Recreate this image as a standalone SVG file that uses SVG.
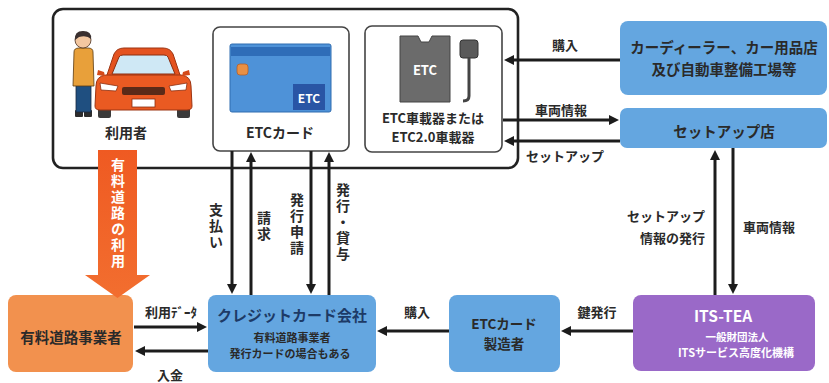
<svg xmlns="http://www.w3.org/2000/svg" width="829" height="383" viewBox="0 0 829 383">
  <style>
    text { font-family: "Noto Sans CJK JP", "Noto Sans", sans-serif; font-weight: bold; fill: #2a2a2a; }
    .c { text-anchor: middle; }
    .r { text-anchor: end; }
    .w { fill: #ffffff; }
    .navy { fill: #1d3a66; }
    .vt { writing-mode: vertical-rl; text-orientation: upright; letter-spacing: 2px; font-size: 14px; }
    .flow { stroke: #1c1c1c; stroke-width: 3; fill: none; marker-end: url(#ah); }
    .blue { fill: #64a6e0; }
    .frame { fill: #ffffff; stroke: #444; stroke-width: 1.6; }
  </style>
  <defs>
    <marker id="ah" viewBox="0 0 10 10" refX="5" refY="5" markerWidth="10" markerHeight="10" markerUnits="userSpaceOnUse" orient="auto">
      <path d="M0,0 L10,5 L0,10 z" fill="#1c1c1c"/>
    </marker>
    <linearGradient id="og" x1="0" y1="0" x2="0" y2="1">
      <stop offset="0" stop-color="#ef5a22"/>
      <stop offset="1" stop-color="#f26e2f"/>
    </linearGradient>
  </defs>

  <rect width="829" height="383" fill="#ffffff"/>

  <!-- user-side frame -->
  <g id="user-frame">
    <rect x="53" y="9" width="465" height="159" rx="10" fill="none" stroke="#222" stroke-width="2.6"/>
  </g>

  <!-- user: driver and car -->
  <g id="user">
    <!-- car -->
    <rect x="98" y="104" width="13" height="14" rx="2" fill="#3a3a3a"/>
    <rect x="177" y="104" width="13" height="14" rx="2" fill="#3a3a3a"/>
    <path d="M106,78 L114,54 Q117,48 124,48 L163,48 Q170,48 173,54 L181,78 Z" fill="#e4521f" stroke="#9c3412" stroke-width="1"/>
    <path d="M112,74 L119,57 Q120,55 123,55 L164,55 Q167,55 168,57 L175,74 Z" fill="#cfe8f5" stroke="#8a2e10" stroke-width="1"/>
    <path d="M96,86 Q96,76 106,75 L181,75 Q191,76 191,86 L192,106 Q192,110 187,110 L100,110 Q95,110 95,106 Z" fill="#ea5a22" stroke="#9c3412" stroke-width="1"/>
    <path d="M100,83 L118,86 L116,91 L101,90 Z" fill="#ffffff" stroke="#8a2e10" stroke-width="0.8"/>
    <path d="M187,83 L169,86 L171,91 L186,90 Z" fill="#ffffff" stroke="#8a2e10" stroke-width="0.8"/>
    <rect x="122" y="87" width="43" height="8" rx="2" fill="#5a2a18"/>
    <rect x="132" y="99" width="23" height="8" fill="#ffffff" stroke="#8a2e10" stroke-width="0.8"/>
    <path d="M104,72 L98,70 L97,75 L105,76 Z" fill="#d44a1a"/>
    <path d="M183,72 L189,70 L190,75 L182,76 Z" fill="#d44a1a"/>
    <!-- driver -->
    <rect x="75" y="110" width="8" height="7" rx="1" fill="#2d2d2d"/>
    <rect x="84" y="110" width="8" height="7" rx="1" fill="#2d2d2d"/>
    <rect x="76" y="84" width="15" height="28" fill="#1f4f80" stroke="#1a2a40" stroke-width="0.8"/>
    <path d="M74,52 Q74,48 79,48 L88,48 Q93,48 93,52 L94,86 L73,86 Z" fill="#e8a03a" stroke="#5a3a10" stroke-width="0.8"/>
    <circle cx="83" cy="40" r="8" fill="#f3c7a0" stroke="#4a3020" stroke-width="0.8"/>
    <path d="M75,40 Q74,31 83,31 Q92,31 91,39 Q87,35 79,37 Z" fill="#3a3030"/>
    <text x="126" y="138" class="c" font-size="14">利用者</text>
  </g>

  <!-- ETC card -->
  <g id="etc-card">
    <rect x="213" y="27" width="136" height="124" rx="7" class="frame"/>
    <rect x="230" y="44" width="101" height="68" rx="2" fill="#4e92d8" stroke="#2f6cb0" stroke-width="1"/>
    <rect x="231" y="47" width="99" height="9" fill="#2f6db8"/>
    <rect x="237" y="64" width="11" height="11" rx="3" fill="#e99045" stroke="#b5602a" stroke-width="0.8"/>
    <rect x="293" y="84" width="32" height="26" fill="#2955a5"/>
    <text x="309" y="103" class="c w" font-size="12" font-family="Liberation Sans, sans-serif">ETC</text>
    <text x="280" y="138" class="c" font-size="14">ETCカード</text>
  </g>

  <!-- on-board unit -->
  <g id="etc-unit">
    <rect x="365" y="26" width="137" height="126" rx="7" class="frame"/>
    <path d="M400,36 L418,36 L421,42 L429,42 L432,36 L450,36 L450,102 L400,102 Z" fill="#6b6b6b" stroke="#444" stroke-width="1"/>
    <text x="425" y="75" class="c w" font-size="13" font-family="Liberation Sans, sans-serif">ETC</text>
    <rect x="460" y="40" width="18" height="18" rx="3" fill="#5a5a5a" stroke="#333" stroke-width="1"/>
    <path d="M469,58 L469,96 Q469,101 463,101" fill="none" stroke="#444" stroke-width="3"/>
    <text x="433" y="123" class="c" font-size="13">ETC車載器または</text>
    <text x="433" y="142" class="c" font-size="13">ETC2.0車載器</text>
  </g>

  <!-- dealers -->
  <g id="dealer">
    <rect x="620" y="21" width="207" height="74" rx="8" class="blue"/>
    <text x="724" y="53" class="c" font-size="14.5">カーディーラー、カー用品店</text>
    <text x="724" y="75" class="c" font-size="14.5">及び自動車整備工場等</text>
  </g>

  <!-- setup shop -->
  <g id="setup-shop">
    <rect x="620" y="108" width="207" height="40" rx="7" class="blue"/>
    <text x="724" y="137" class="c" font-size="14.5">セットアップ店</text>
  </g>

  <!-- toll road operator -->
  <g id="toll-operator">
    <rect x="8" y="295" width="125" height="77" rx="8" fill="#f2914e"/>
    <text x="71" y="343" class="c" font-size="14.5">有料道路事業者</text>
  </g>

  <!-- credit card company -->
  <g id="card-company">
    <rect x="208" y="295" width="168" height="77" rx="8" class="blue"/>
    <text x="292" y="321" class="c navy" font-size="15">クレジットカード会社</text>
    <text x="292" y="342" class="c" font-size="11">有料道路事業者</text>
    <text x="290" y="358" class="c" font-size="11">発行カードの場合もある</text>
  </g>

  <!-- ETC card maker -->
  <g id="card-maker">
    <rect x="449" y="295" width="111" height="77" rx="8" class="blue"/>
    <text x="504" y="329" class="c" font-size="13.5">ETCカード</text>
    <text x="504" y="349" class="c" font-size="13.5">製造者</text>
  </g>

  <!-- ITS-TEA -->
  <g id="its-tea">
    <rect x="633" y="295" width="182" height="76" rx="8" fill="#9a69c8"/>
    <text x="723" y="322" class="c w" font-size="15.5" font-family="Liberation Sans Narrow, Liberation Sans, sans-serif">ITS-TEA</text>
    <text x="737" y="341" class="c w" font-size="10.5">一般財団法人</text>
    <text x="736" y="357" class="c w" font-size="11">ITSサービス高度化機構</text>
  </g>

  <!-- toll road use arrow -->
  <g id="toll-use">
    <path d="M98,150 L137,150 L137,275 L150,275 L117.5,298 L85,275 L98,275 Z" fill="url(#og)"/>
    <text x="118" y="158" class="w" font-size="14" style="writing-mode: vertical-rl; text-orientation: upright; letter-spacing: 2px;">有料道路の利用</text>
  </g>

  <!-- connectors -->
  <g id="connectors">
    <line x1="620" y1="60" x2="509" y2="60" class="flow"/>
    <line x1="503" y1="120" x2="614" y2="120" class="flow"/>
    <line x1="620" y1="141" x2="509" y2="141" class="flow"/>
    <line x1="715" y1="295" x2="715" y2="155" class="flow"/>
    <line x1="733" y1="148" x2="733" y2="289" class="flow"/>
    <line x1="633" y1="331" x2="566" y2="331" class="flow"/>
    <line x1="449" y1="331" x2="382" y2="331" class="flow"/>
    <line x1="134" y1="327" x2="202" y2="327" class="flow"/>
    <line x1="208" y1="351" x2="140" y2="351" class="flow"/>
    <line x1="232" y1="151" x2="232" y2="289" class="flow"/>
    <line x1="251" y1="295" x2="251" y2="157" class="flow"/>
    <line x1="311" y1="151" x2="311" y2="289" class="flow"/>
    <line x1="329" y1="295" x2="329" y2="157" class="flow"/>
  </g>

  <!-- connector labels -->
  <g id="labels">
    <text x="565" y="50" class="c" font-size="13">購入</text>
    <text x="561" y="115" class="c" font-size="13">車両情報</text>
    <text x="565" y="161" class="c" font-size="13">セットアップ</text>
    <text x="705" y="221" class="r" font-size="13">セットアップ</text>
    <text x="705" y="243" class="r" font-size="13">情報の発行</text>
    <text x="743" y="232" font-size="13">車両情報</text>
    <text x="597" y="317" class="c" font-size="13">鍵発行</text>
    <text x="417" y="317" class="c" font-size="13">購入</text>
    <text x="171" y="317" class="c" font-size="13">利用ﾃﾞｰﾀ</text>
    <text x="170" y="380" class="c" font-size="13">入金</text>
    <text x="216" y="203" class="vt">支払い</text>
    <text x="264" y="211" class="vt">請求</text>
    <text x="297" y="193" class="vt">発行申請</text>
    <text x="343" y="183" class="vt">発行・貸与</text>
  </g>
</svg>
